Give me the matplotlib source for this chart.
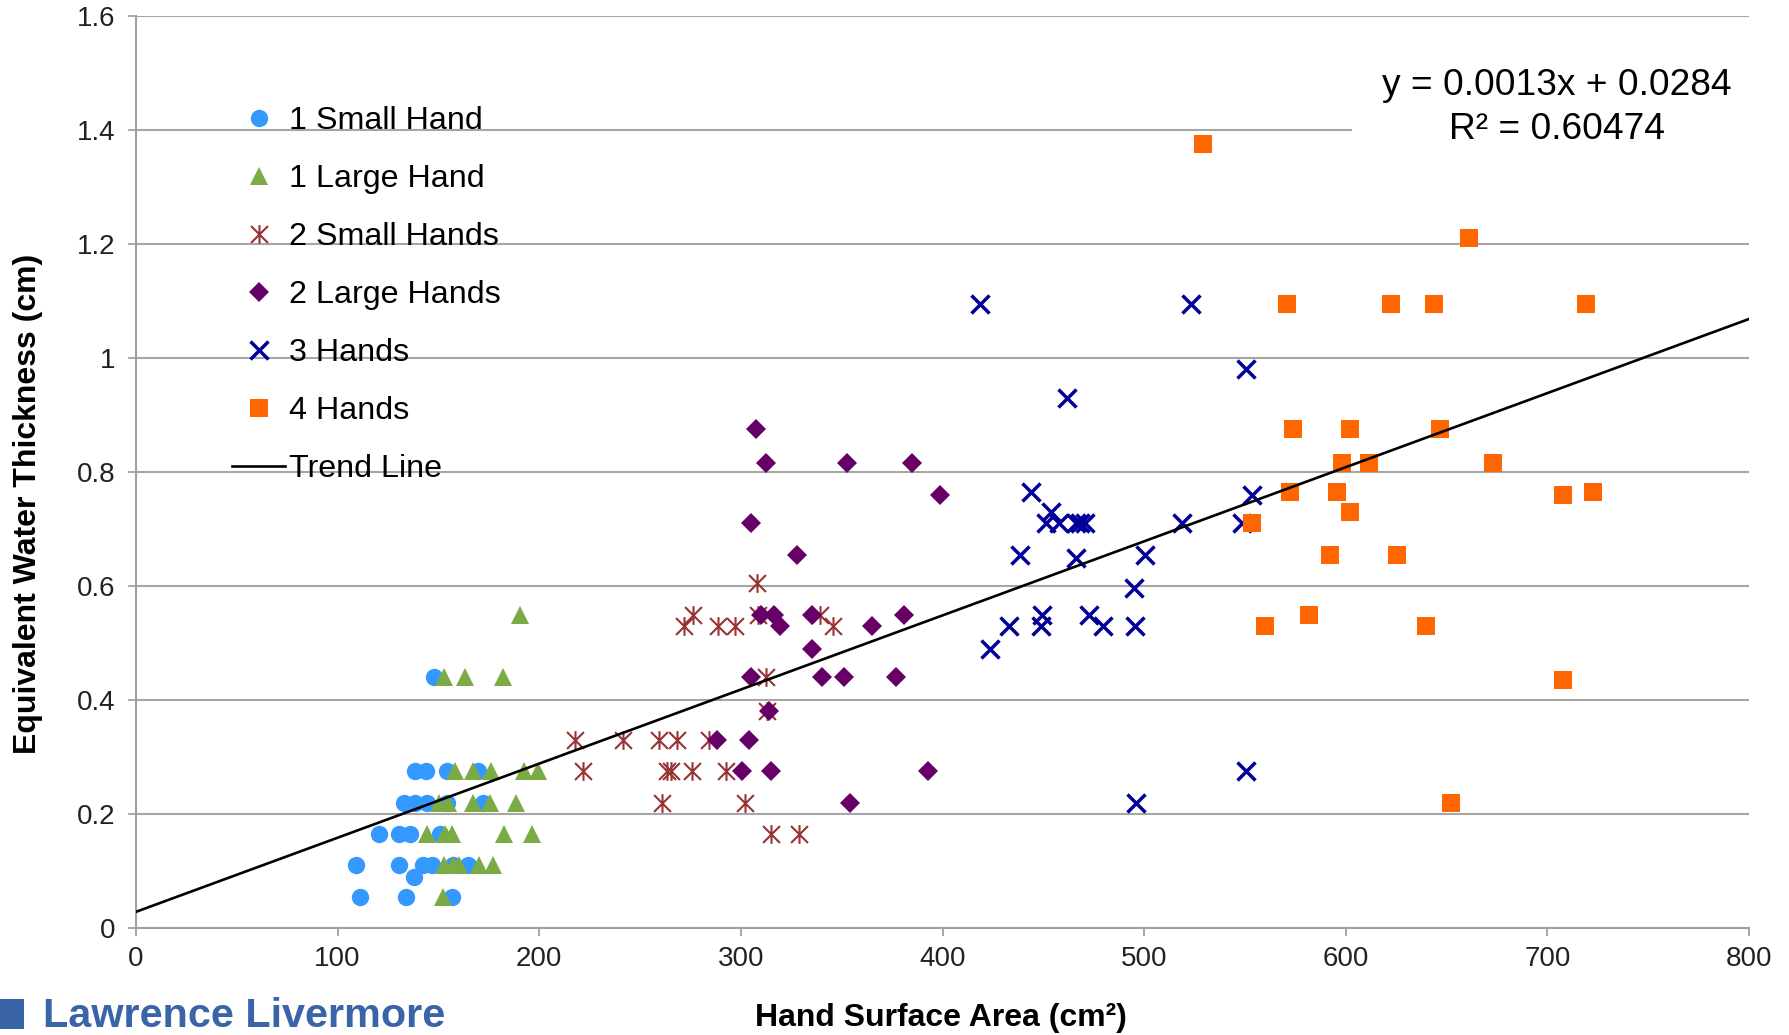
import matplotlib
matplotlib.use('Agg')
import matplotlib.pyplot as plt
from matplotlib.path import Path
from matplotlib.patches import Rectangle
from matplotlib.ticker import FuncFormatter

plt.rcParams['font.family'] = ['Liberation Sans', 'DejaVu Sans']

# ---------------- data ----------------
small1_x = [138.4, 143.8, 154.0, 169.7,
            133.1, 138.4, 144.2, 154.1, 172.3,
            120.7, 130.5, 135.9, 150.8,
            109.1, 130.5, 142.5, 146.7, 157.4, 164.8,
            138.1,
            111.1, 133.9, 156.6,
            147.6]
small1_y = [0.275, 0.275, 0.275, 0.275,
            0.22, 0.22, 0.22, 0.22, 0.22,
            0.165, 0.165, 0.165, 0.165,
            0.11, 0.11, 0.11, 0.11, 0.11, 0.11,
            0.09,
            0.055, 0.055, 0.055,
            0.44]

large1_x = [158.2, 167.3, 176.1, 192.6, 199.3,
            150.5, 154.9, 167.3, 175.6, 188.5,
            144.2, 153.3, 156.6, 182.5, 196.6,
            152.8, 157.4, 160.4, 170.1, 177.2,
            152.4,
            190.6,
            152.7, 163.4, 182.1]
large1_y = [0.275, 0.275, 0.275, 0.275, 0.275,
            0.22, 0.22, 0.22, 0.22, 0.22,
            0.165, 0.165, 0.165, 0.165, 0.165,
            0.11, 0.11, 0.11, 0.11, 0.11,
            0.055,
            0.55,
            0.44, 0.44, 0.44]

small2_x = [308.0,
            276.4, 308.7, 339.3,
            272.0, 288.8, 297.1, 345.6,
            312.3,
            312.8,
            217.8, 241.4, 259.6, 268.2, 284.4,
            221.9, 263.2, 265.2, 275.9, 292.5,
            260.8, 302.1,
            314.8, 329.0]
small2_y = [0.605,
            0.55, 0.55, 0.55,
            0.53, 0.53, 0.53, 0.53,
            0.44,
            0.38,
            0.33, 0.33, 0.33, 0.33, 0.33,
            0.275, 0.275, 0.275, 0.275, 0.275,
            0.22, 0.22,
            0.165, 0.165]

large2_x = [307.5,
            312.5, 352.7, 385.1,
            398.8,
            305.1,
            327.7,
            309.8, 316.5, 335.2, 381.0,
            319.4, 364.9,
            335.2,
            305.1, 340.1, 351.2, 377.0,
            314.1,
            288.0, 304.2,
            300.4, 314.8, 392.6,
            354.2]
large2_y = [0.875,
            0.815, 0.815, 0.815,
            0.76,
            0.71,
            0.655,
            0.55, 0.55, 0.55, 0.55,
            0.53, 0.53,
            0.49,
            0.44, 0.44, 0.44, 0.44,
            0.38,
            0.33, 0.33,
            0.275, 0.275, 0.275,
            0.22]

hands3_x = [418.7, 523.2,
            550.4,
            461.6,
            444.0,
            553.4,
            453.7,
            451.4, 458.0, 466.0, 468.3, 470.7, 518.7, 548.5,
            438.2, 500.5,
            466.3,
            495.2,
            449.3, 472.9,
            433.2, 448.8, 479.5, 495.5,
            423.8,
            550.6,
            496.0]
hands3_y = [1.095, 1.095,
            0.98,
            0.93,
            0.765,
            0.76,
            0.73,
            0.71, 0.71, 0.71, 0.71, 0.71, 0.71, 0.71,
            0.655, 0.655,
            0.65,
            0.597,
            0.55, 0.55,
            0.53, 0.53, 0.53, 0.53,
            0.49,
            0.275,
            0.22]

hands4_x = [529.4,
            660.9,
            570.8, 622.4, 644.0, 719.2,
            573.7, 602.2, 646.5,
            598.1, 611.3, 672.9,
            572.4, 595.6, 722.4,
            707.7,
            602.2,
            553.7,
            592.3, 625.3,
            582.0,
            560.0, 639.9,
            707.7,
            652.1]
hands4_y = [1.375,
            1.21,
            1.095, 1.095, 1.095, 1.095,
            0.875, 0.875, 0.875,
            0.815, 0.815, 0.815,
            0.765, 0.765, 0.765,
            0.76,
            0.73,
            0.71,
            0.655, 0.655,
            0.55,
            0.53, 0.53,
            0.435,
            0.22]

trend_slope = 0.0013
trend_intercept = 0.0284
trend_x = [0, 800]
r_squared = "0.60474"

x_ticks = [0, 100, 200, 300, 400, 500, 600, 700, 800]
y_ticks = [0, 0.2, 0.4, 0.6, 0.8, 1.0, 1.2, 1.4, 1.6]

# ---------------- figure ----------------
W, H = 1789, 1035
fig = plt.figure(figsize=(W / 100, H / 100), dpi=100)
ax = fig.add_axes([136 / W, 1 - 928 / H, (1749 - 136) / W, (928 - 16) / H])

asterisk = Path([(0, -1), (0, 1), (-0.9, -0.9), (0.9, 0.9), (-0.9, 0.9), (0.9, -0.9)],
                [Path.MOVETO, Path.LINETO, Path.MOVETO, Path.LINETO, Path.MOVETO, Path.LINETO])

ax.plot(small1_x, small1_y, ls='none', marker='o', ms=12.5, mfc='#3399FF', mec='#3399FF',
        mew=0, label='1 Small Hand', zorder=3)
ax.plot(large1_x, large1_y, ls='none', marker='^', ms=13, mfc='#7AAB45', mec='#7AAB45',
        mew=0, label='1 Large Hand', zorder=3)
ax.plot(small2_x, small2_y, ls='none', marker=asterisk, ms=13.5, mfc='none', mec='#993333',
        mew=1.5, label='2 Small Hands', zorder=3)
ax.plot(large2_x, large2_y, ls='none', marker='D', ms=10.5, mfc='#660066', mec='#660066',
        mew=0, label='2 Large Hands', zorder=3)
ax.plot(hands3_x, hands3_y, ls='none', marker='x', ms=12.5, mec='#000099',
        mew=2.5, label='3 Hands', zorder=3)
ax.plot(hands4_x, hands4_y, ls='none', marker='s', ms=12.8, mfc='#FF6600', mec='#FF6600',
        mew=0, label='4 Hands', zorder=3)

trend_y = [trend_slope * v + trend_intercept for v in trend_x]
ax.plot(trend_x, trend_y, color='black', lw=1.9, label='Trend Line', zorder=4)

ax.set_xlim(0, 800)
ax.set_ylim(0, 1.6)
ax.set_xticks(x_ticks)
ax.set_yticks(y_ticks)
ax.yaxis.set_major_formatter(FuncFormatter(lambda v, _: f'{v:g}'))
ax.xaxis.set_major_formatter(FuncFormatter(lambda v, _: f'{v:g}'))

ax.set_axisbelow(True)
ax.yaxis.grid(True, color='#a6a6a6', lw=1.5)
for s in ['top', 'right']:
    ax.spines[s].set_visible(False)
for s in ['left', 'bottom']:
    ax.spines[s].set_color('#a0a0a0')
    ax.spines[s].set_linewidth(1.5)

ax.tick_params(axis='both', direction='out', length=6, width=1.3, color='#a0a0a0',
               labelsize=20, labelcolor='#222222')
ax.tick_params(axis='y', pad=8.5)
ax.tick_params(axis='x', pad=7)

ax.set_xlabel('Hand Surface Area (cm²)', fontsize=23, fontweight='bold')
ax.set_ylabel('Equivalent Water Thickness (cm)', fontsize=23, fontweight='bold')
ax.xaxis.label.set_va('center')
ax.yaxis.label.set_va('center')
ax.xaxis.set_label_coords((941 - 136) / 1613, (928 - 1018) / 912)
ax.yaxis.set_label_coords((28.5 - 136) / 1613, (928 - 504) / 912)

ax.legend(loc='upper left', bbox_to_anchor=(232 / W, 1 - 106 / H), bbox_transform=fig.transFigure,
          frameon=False, fontsize=23.2, handlelength=1.65, handletextpad=0.12,
          labelspacing=0.87, borderpad=0, borderaxespad=0)

fig.text(1557 / W, 1 - 107.5 / H, f'y = {trend_slope}x + {trend_intercept}\nR² = {r_squared}',
         ha='center', va='center', fontsize=26.7, linespacing=1.3, color='black',
         bbox=dict(facecolor='white', edgecolor='none', pad=22))

logo_color = '#3A64A8'
fig.add_artist(Rectangle((0, 1 - 1029 / H), 24 / W, 30 / H, transform=fig.transFigure,
                         facecolor=logo_color, edgecolor='none'))
fig.text(43 / W, 1 - 1026.7 / H, 'Lawrence Livermore', fontsize=29.8, fontweight='bold',
         color=logo_color, va='baseline', ha='left')

fig.savefig('out.png', dpi=100)
